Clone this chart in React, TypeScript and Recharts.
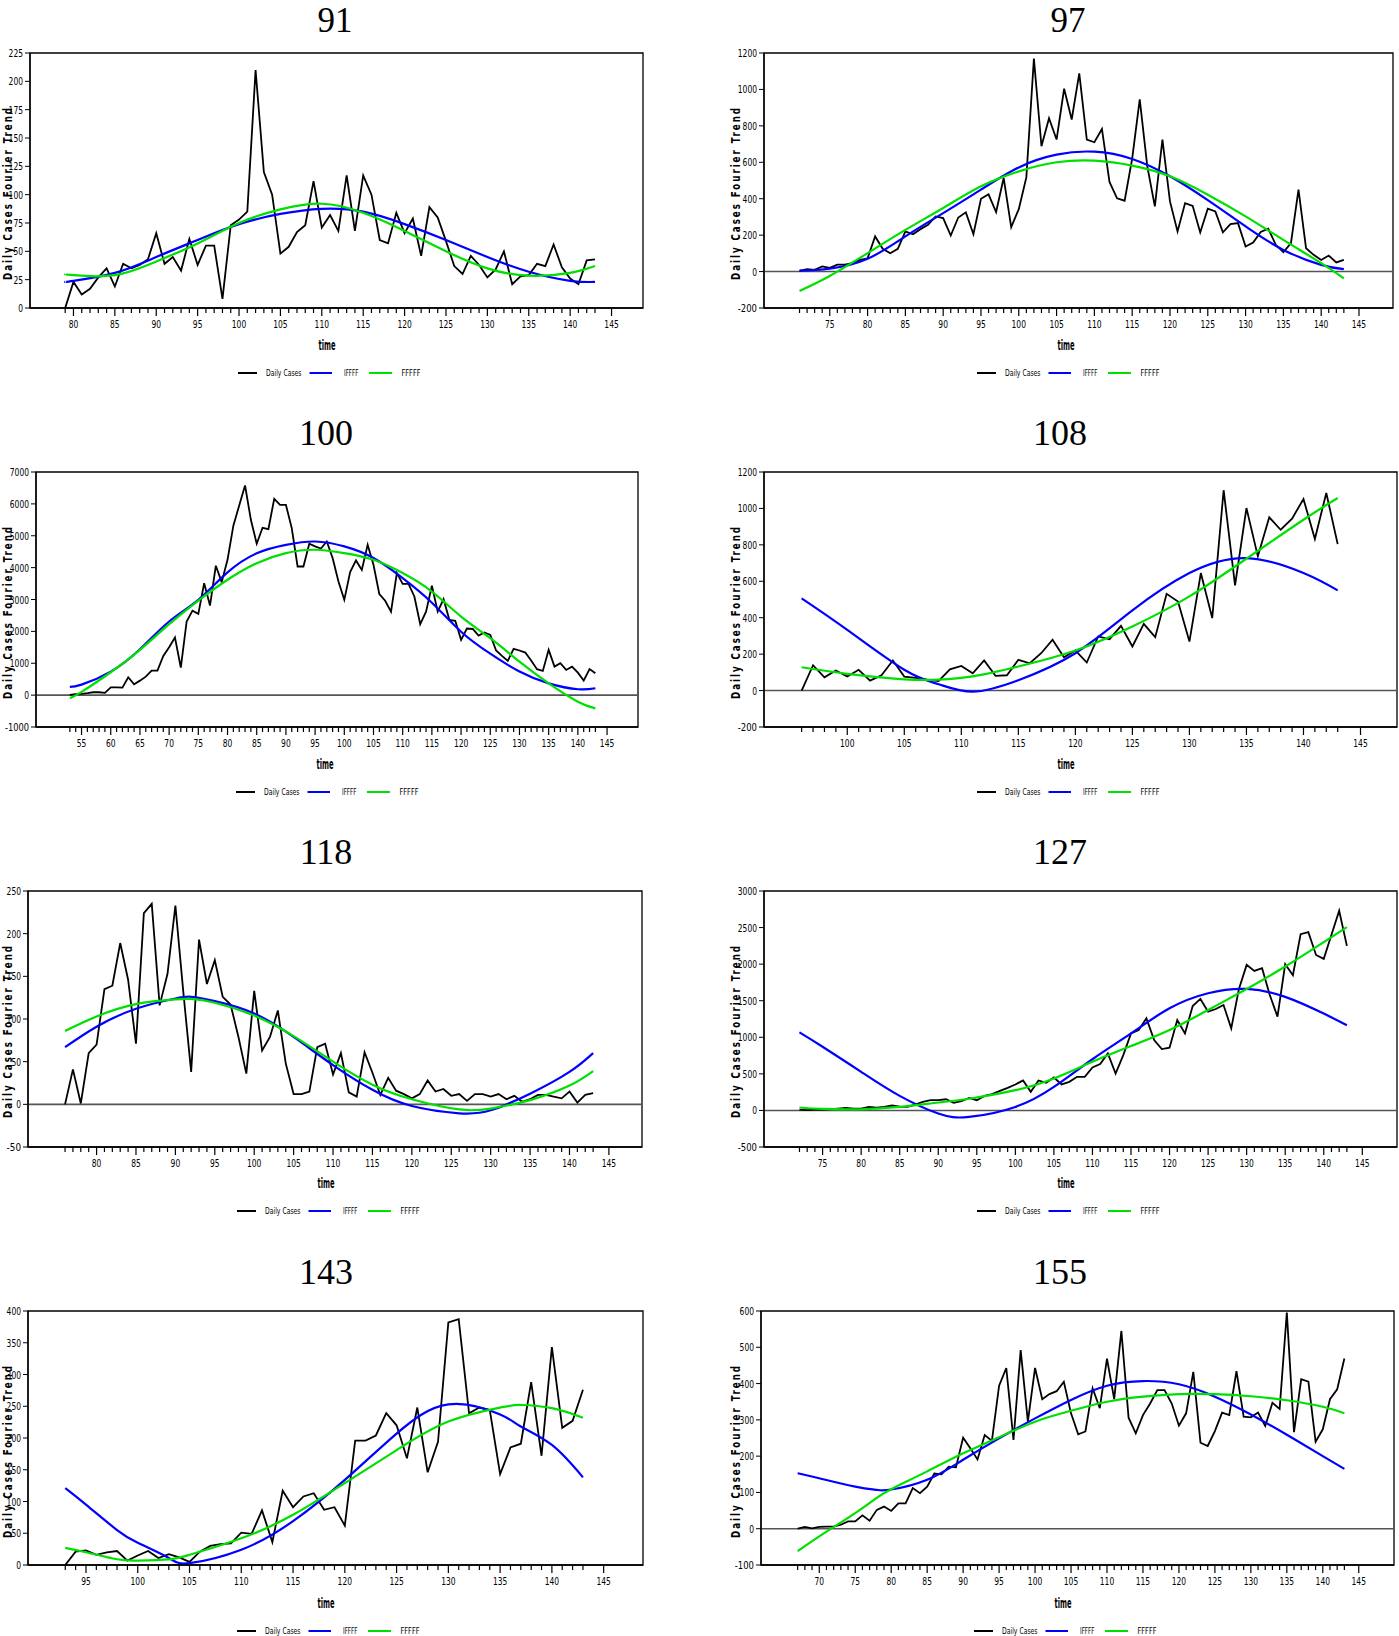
import React from 'react';
import { LineChart, Line, XAxis, YAxis, ReferenceLine, ReferenceArea } from 'recharts';

// ---------- data ----------
const P91_START = 79;
const P91_CASES = [0,23,12,17,27,35,19,39,35,38, 43,66,39,45,33,61,38,55,55,8, 73,78,85,210,120,100,48,54,67,73, 112,71,82,68,117,68,117,100,60,57, 84,66,79,46,89,80,59,37,30,46, 38,27,34,50,21,28,29,39,37,56, 36,26,21,42,43];
const P91_TX = [79,80,85,90,95,100,105,110,115,120,125,130,135,140,143];
const P91_IFFFF = [23,24,31,45,60,74,83,87.5,85,74,60,45,32,24,23];
const P91_FFFFF = [30,29,29,41,57,75,87,92,84,68,50,35,28.5,31,37];

const P97_START = 71;
const P97_CASES = [4,13,9,28,20,38,38,46,64,73, 193,125,101,125,220,205,233,257,303,294, 198,297,325,205,400,424,327,514,244,343, 517,1169,688,842,725,1004,835,1088,725,710, 783,492,402,389,620,945,578,358,725,385, 220,376,361,215,345,330,215,260,266,138, 160,218,235,147,106,156,450,128,92,64, 88,50,64];
const P97_TX = [71,75,80,85,90,95,100,105,110,115,120,125,130,135,140,143];
const P97_IFFFF = [5,16,70,193,321,450,572,642,658,618,523,392,248,119,37,13];
const P97_FFFFF = [-106,-24,101,229,349,468,550,600,609,582,523,422,303,174,46,-37];

const P100_START = 53;
const P100_CASES = [5,30,40,60,90,90,70,246,246,235, 560,340,455,580,770,770,1230,1500,1805,865, 2310,2650,2550,3510,2810,4060,3545,4245,5315,5950, 6580,5500,4750,5250,5210,6160,5970,5970,5240,4035, 4035,4750,4665,4600,4820,4300,3565,2990,3860,4225, 3930,4715,4090,3170,2960,2620,3830,3490,3490,3095, 2225,2620,3430,2620,3010,2360,2330,1735,2090,2075, 1870,1965,1890,1400,1230,1075,1450,1400,1335,1085, 815,760,1420,895,1000,790,895,705,455,820, 685];
const P100_TX = [53,55,60,65,70,75,80,85,90,95,100,105,110,115,120,125,130,135,140,143];
const P100_IFFFF = [256,330,738,1440,2310,2990,3850,4450,4715,4820,4665,4300,3670,2900,1990,1300,740,370,185,215];
const P100_FFFFF = [-100,100,717,1420,2225,2965,3620,4140,4455,4560,4455,4245,3830,3250,2465,1785,1050,370,-205,-415];

const P108_START = 96;
const P108_CASES = [0,139,73,110,77,114,55,84,165,77, 70,60,52,117,135,95,165,81,84,169, 150,205,279,183,220,154,297,282,355,242, 366,293,531,489,269,645,398,1100,577,1002, 737,951,883,944,1052,832,1085,804];
const P108_TX = [96,100,105,108,111,115,120,125,130,135,140,143];
const P108_IFFFF = [506,333,114,35,-6,57,205,440,645,727,645,550];
const P108_FFFFF = [128,92,62,60,78,132,220,352,517,724,938,1057];

const P118_START = 76;
const P118_CASES = [0,41,1,60,70,135,139,189,146,71, 224,235,116,153,233,132,38,193,141,169, 126,117,79,36,133,63,79,110,48,12, 12,15,67,71,35,60,14,9,61,37, 11,31,16,12,7,12,28,15,18,10, 12,4,12,12,9,12,6,10,3,6, 11,11,9,7,15,2,11,13];
const P118_TX = [76,80,85,90,92,95,100,105,110,115,120,126,130,135,140,143];
const P118_IFFFF = [67,91,112,124,126,121,106.5,79,46,17,-2,-10.5,-7,12.5,38,60];
const P118_FFFFF = [86,103,117.5,123,123.5,119,104,80,50,23,6,-6,-5,5,22,39];

const P127_START = 72;
const P127_CASES = [12,3,12,12,16,25,35,25,25,48, 39,48,67,53,48,80,117,140,140,153, 103,126,172,140,199,222,268,309,355,409, 254,409,377,450,355,391,459,459,587,633, 779,505,756,1053,1099,1259,963,839,857,1236, 1053,1428,1524,1350,1387,1442,1122,1661,1990,1908, 1945,1579,1282,1999,1848,2410,2437,2126,2072,2401, 2730,2250];
const P127_TX = [72,75,80,85,90,94,100,105,110,115,120,125,130,135,140,143];
const P127_IFFFF = [1068,871,528,199,-43,-89,48,322,700,1053,1396,1602,1661,1553,1324,1164];
const P127_FFFFF = [40,20,15,48,108,160,277,437,665,880,1099,1373,1661,1967,2301,2506];

const P143_START = 93;
const P143_CASES = [0,21,23,16,20,22,7,15,22,11, 17,12,5,21,30,33,34,51,49,86, 36,117,91,108,113,87,91,62,196,196, 204,239,220,168,248,146,194,382,387,239, 248,244,143,185,191,288,172,343,216,227, 276];
const P143_TX = [93,95,98,100,103,105,110,115,120,125,130,135,137,140,143];
const P143_IFFFF = [121,95,55,35,11,3,24,69,134,207,253,237,218,189,138];
const P143_FFFFF = [27,20,9,7,9,16,42,79,129,181,226,248,252,247,232];

const P155_START = 67;
const P155_CASES = [0,5,1,5,6,6,11,20,20,37, 22,52,61,49,70,70,112,98,116,152, 150,171,169,251,222,191,258,242,394,443, 245,492,295,443,357,371,379,405,318,260, 268,387,332,469,357,545,306,263,313,345, 382,382,345,284,318,432,237,228,269,320, 313,434,309,307,320,283,347,330,596,266, 412,405,240,274,357,384,469];
const P155_TX = [67,70,75,78,80,85,90,95,100,105,110,115,120,125,130,135,140,143];
const P155_IFFFF = [153,139,116,107,108,135,190,249,304,355,394,407,398,364,315,259,200,165];
const P155_FFFFF = [-62,-21,43,85,109,158,208,252,295,325,350,364,371,371,365,354,336,318];

const Y91 = [0,25,50,75,100,125,150,175,200,225];
const Y97 = [-200,0,200,400,600,800,1000,1200];
const Y100 = [-1000,0,1000,2000,3000,4000,5000,6000,7000];
const Y108 = [-200,0,200,400,600,800,1000,1200];
const Y118 = [-50,0,50,100,150,200,250];
const Y127 = [-500,0,500,1000,1500,2000,2500,3000];
const Y143 = [0,50,100,150,200,250,300,350,400];
const Y155 = [-100,0,100,200,300,400,500,600];

const X91 = [80,85,90,95,100,105,110,115,120,125,130,135,140,145];
const X97 = [75,80,85,90,95,100,105,110,115,120,125,130,135,140,145];
const X100 = [55,60,65,70,75,80,85,90,95,100,105,110,115,120,125,130,135,140,145];
const X108 = [100,105,110,115,120,125,130,135,140,145];
const X118 = [80,85,90,95,100,105,110,115,120,125,130,135,140,145];
const X127 = [75,80,85,90,95,100,105,110,115,120,125,130,135,140,145];
const X143 = [95,100,105,110,115,120,125,130,135,140,145];
const X155 = [70,75,80,85,90,95,100,105,110,115,120,125,130,135,140,145];

const LEGEND_NAMES = ['Daily Cases', 'IFFFF', 'FFFFF'];
const Y_TITLE = 'Daily Cases Fourier Trend';
const X_TITLE = 'time';

// ---------- layout / styling ----------
const NARROW = '"Liberation Sans Narrow", "Arial Narrow", "DejaVu Sans Condensed", sans-serif';
const SERIF = '"Liberation Serif", "Times New Roman", "DejaVu Serif", serif';
const BLUE = '#0000ff';
const GREEN = '#00e000';

type Pt = { x: number; y: number };
const series = (start: number, vals: number[]): Pt[] => vals.map((y, i) => ({ x: start + i, y }));
const pairs = (xs: number[], ys: number[]): Pt[] => xs.map((x, i) => ({ x, y: ys[i] }));

type PanelDef = {
  title: string; start: number; cases: number[]; tx: number[]; b1: number[]; b2: number[];
  yTicks: number[]; xLabels: number[];
  col: number; l: number; r: number; t: number; b: number; xd: [number, number];
  titleX: number; timeX: number; ylabX: number;
};

const PANELS: PanelDef[] = [
  { title: '91', start: P91_START, cases: P91_CASES, tx: P91_TX, b1: P91_IFFFF, b2: P91_FFFFF, yTicks: Y91, xLabels: X91,
    col: 0, l: 30, r: 643, t: 53, b: 308, xd: [74.75, 148.8], titleX: 335, timeX: 327, ylabX: 8 },
  { title: '97', start: P97_START, cases: P97_CASES, tx: P97_TX, b1: P97_IFFFF, b2: P97_FFFFF, yTicks: Y97, xLabels: X97,
    col: 700, l: 764, r: 1393, t: 53, b: 308, xd: [66.3, 149.5], titleX: 1068, timeX: 1066, ylabX: 736 },
  { title: '100', start: P100_START, cases: P100_CASES, tx: P100_TX, b1: P100_IFFFF, b2: P100_FFFFF, yTicks: Y100, xLabels: X100,
    col: 0, l: 36, r: 638, t: 472, b: 727, xd: [47.2, 150.3], titleX: 326, timeX: 325, ylabX: 8 },
  { title: '108', start: P108_START, cases: P108_CASES, tx: P108_TX, b1: P108_IFFFF, b2: P108_FFFFF, yTicks: Y108, xLabels: X108,
    col: 700, l: 764, r: 1397, t: 472, b: 727, xd: [92.7, 148.2], titleX: 1060, timeX: 1066, ylabX: 736 },
  { title: '118', start: P118_START, cases: P118_CASES, tx: P118_TX, b1: P118_IFFFF, b2: P118_FFFFF, yTicks: Y118, xLabels: X118,
    col: 0, l: 28, r: 642, t: 891, b: 1147, xd: [71.3, 149.2], titleX: 326, timeX: 326, ylabX: 8 },
  { title: '127', start: P127_START, cases: P127_CASES, tx: P127_TX, b1: P127_IFFFF, b2: P127_FFFFF, yTicks: Y127, xLabels: X127,
    col: 700, l: 764, r: 1397, t: 891, b: 1147, xd: [67.4, 149.5], titleX: 1060, timeX: 1066, ylabX: 736 },
  { title: '143', start: P143_START, cases: P143_CASES, tx: P143_TX, b1: P143_IFFFF, b2: P143_FFFFF, yTicks: Y143, xLabels: X143,
    col: 0, l: 28, r: 643, t: 1311, b: 1565, xd: [89.4, 148.8], titleX: 326, timeX: 326, ylabX: 8 },
  { title: '155', start: P155_START, cases: P155_CASES, tx: P155_TX, b1: P155_IFFFF, b2: P155_FFFFF, yTicks: Y155, xLabels: X155,
    col: 700, l: 761, r: 1394, t: 1311, b: 1565, xd: [61.9, 149.9], titleX: 1060, timeX: 1063, ylabX: 736 },
];

const CHAR_W = 4.8;

const makeXTick = (labels: number[]) => (props: any) => {
  const { x, y, payload } = props;
  const v = payload.value as number;
  const major = v % 5 === 0;
  const lab = labels.indexOf(v) >= 0;
  const s = String(v);
  return (
    <g>
      <line x1={x} x2={x} y1={y} y2={y + (major ? 8 : 5)} stroke="#000" strokeWidth={1.2} />
      {lab && (
        <text x={x} y={y + 20} textAnchor="middle" fontFamily={NARROW} fontSize={11} fill="#000"
          textLength={s.length * CHAR_W} lengthAdjust="spacingAndGlyphs">{s}</text>
      )}
    </g>
  );
};

const YTick = (props: any) => {
  const { x, y, payload } = props;
  const s = String(payload.value);
  return (
    <text x={x} y={y + 4} textAnchor="end" fontFamily={NARROW} fontSize={11} fill="#000"
      textLength={s.length * CHAR_W} lengthAdjust="spacingAndGlyphs">{s}</text>
  );
};

const Panel: React.FC<{ p: PanelDef }> = ({ p }) => {
  const cases = series(p.start, p.cases);
  const iffff = pairs(p.tx, p.b1);
  const fffff = pairs(p.tx, p.b2);
  const ymin = p.yTicks[0];
  const ymax = p.yTicks[p.yTicks.length - 1];
  const xt: number[] = [];
  for (let v = p.start; v <= 143; v++) xt.push(v);
  xt.push(145);
  const top = p.t - 10;
  const width = p.r - p.col + 6;
  const height = p.b - p.t + 10 + 30;
  return (
    <div style={{ position: 'absolute', left: p.col, top, width, height }}>
      <LineChart width={width} height={height} margin={{ top: 10, right: 6, left: 0, bottom: 0 }}>
        <XAxis dataKey="x" type="number" domain={p.xd} allowDataOverflow ticks={xt} interval={0}
          tickLine={false} tickSize={0} tickMargin={0} height={30}
          axisLine={{ stroke: '#000', strokeWidth: 1.3 }} tick={makeXTick(p.xLabels)} />
        <YAxis type="number" domain={[ymin, ymax]} allowDataOverflow ticks={p.yTicks} interval={0}
          width={p.l - p.col} tickSize={5} tickMargin={2} tickLine={{ stroke: '#000', strokeWidth: 1 }}
          axisLine={{ stroke: '#000', strokeWidth: 1.3 }} tick={YTick} />
        <ReferenceArea x1={p.xd[0]} x2={p.xd[1]} y1={ymin} y2={ymax} fill="none" fillOpacity={0}
          stroke="#000" strokeWidth={1.3} ifOverflow="visible" />
        {ymin < 0 && <ReferenceLine y={0} stroke="#555" strokeWidth={1.6} />}
        <Line data={cases} dataKey="y" name="Daily Cases" type="linear" stroke="#000" strokeWidth={1.8}
          dot={false} activeDot={false} isAnimationActive={false} />
        <Line data={iffff} dataKey="y" name="IFFFF" type="natural" stroke={BLUE} strokeWidth={2.2}
          dot={false} activeDot={false} isAnimationActive={false} />
        <Line data={fffff} dataKey="y" name="FFFFF" type="natural" stroke={GREEN} strokeWidth={2.2}
          dot={false} activeDot={false} isAnimationActive={false} />
      </LineChart>
    </div>
  );
};

const LEGEND_COLORS = ['#000', BLUE, GREEN];
const LEGEND_LAYOUT = [
  { l0: 0, l1: 19, tx: 28, tw: 35.5 },
  { l0: 71.5, l1: 94, tx: 106, tw: 14.5 },
  { l0: 131, l1: 154, tx: 163.5, tw: 19 },
];

const Overlay: React.FC = () => (
  <svg width={1399} height={1636} style={{ position: 'absolute', left: 0, top: 0, pointerEvents: 'none' }}>
    {PANELS.map((p) => {
      const cy = p.t + 140;
      const lx = p.timeX + 2 - 91;
      const ly = p.t + 320;
      const titleBase = Math.max(p.t - 27, 32);
      const titleSize = p.t - 27 < 32 ? 35 : 36;
      return (
        <g key={p.title}>
          <text x={p.titleX} y={titleBase} textAnchor="middle" fontFamily={SERIF} fontSize={titleSize} fill="#000">{p.title}</text>
          <text transform={`translate(${p.ylabX + 4},${cy}) rotate(-90)`} textAnchor="middle" fontFamily={NARROW}
            fontWeight="bold" fontSize={12} letterSpacing={2.5} fill="#000" textLength={174}
            lengthAdjust="spacingAndGlyphs">{Y_TITLE}</text>
          <text x={p.timeX} y={p.t + 297} textAnchor="middle" fontFamily={NARROW} fontWeight="bold" fontSize={14}
            fill="#000" textLength={17} lengthAdjust="spacingAndGlyphs">{X_TITLE}</text>
          {LEGEND_NAMES.map((n, i) => {
            const L = LEGEND_LAYOUT[i];
            return (
              <g key={n}>
                <line x1={lx + L.l0} x2={lx + L.l1} y1={ly} y2={ly} stroke={LEGEND_COLORS[i]} strokeWidth={2} />
                <text x={lx + L.tx} y={ly + 3} fontFamily={NARROW} fontSize={8} fill="#000" textLength={L.tw}
                  lengthAdjust="spacingAndGlyphs">{n}</text>
              </g>
            );
          })}
        </g>
      );
    })}
  </svg>
);

export default function App() {
  return (
    <div style={{ position: 'absolute', left: 0, top: 0, width: 1399, height: 1636, background: '#fff' }}>
      {PANELS.map((p) => <Panel key={p.title} p={p} />)}
      <Overlay />
    </div>
  );
}
